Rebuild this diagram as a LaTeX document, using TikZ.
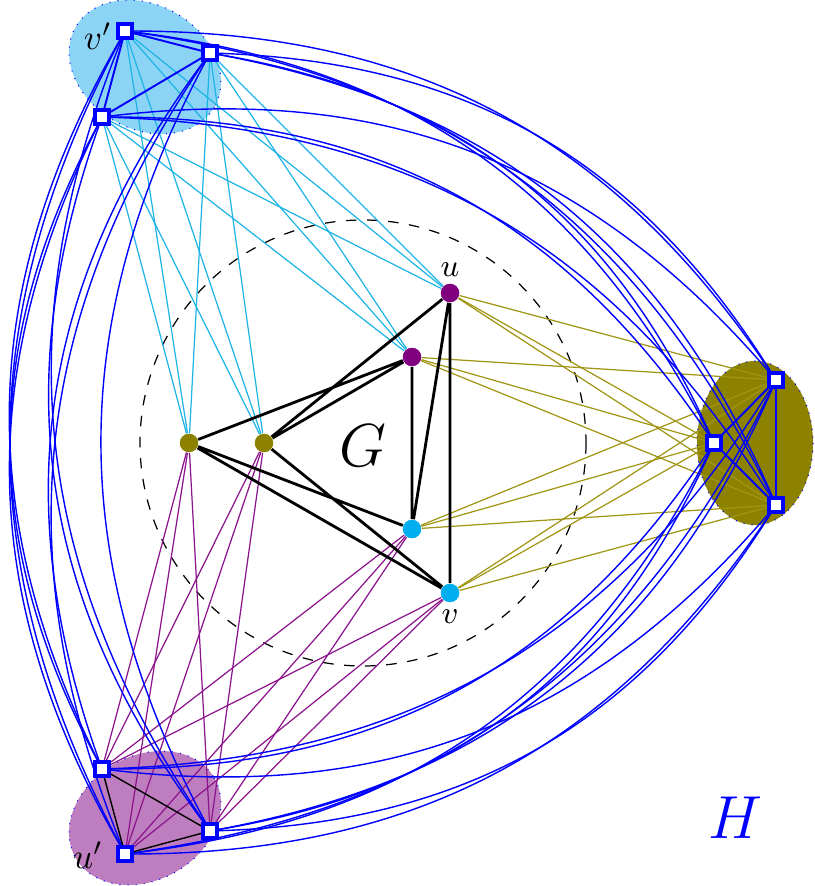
\documentclass[tikz,border=0pt]{standalone}
\begin{document}
\begin{tikzpicture}[x=0.01cm,y=-0.01cm,
  sq/.style={draw=blue,fill=white,line width=1.2pt,minimum size=3.8pt,inner sep=0pt},
  dot/.style={circle,inner sep=0pt,minimum size=5.2pt},
  bl/.style={blue,line width=0.4pt},
  ge/.style={black,line width=0.8pt}]
\definecolor{cyd}{RGB}{0,174,239}
\definecolor{cyl}{RGB}{30,180,230}
\definecolor{cye}{RGB}{140,212,245}
\definecolor{olv}{RGB}{140,130,0}
\definecolor{olvl}{RGB}{160,150,20}
\definecolor{pur}{RGB}{128,0,128}
\definecolor{purl}{RGB}{140,20,140}
\definecolor{pure}{RGB}{190,125,190}
\useasboundingbox (0,0) rectangle (814,886);
\fill[cye] (145,67) ellipse [x radius=80,y radius=62,rotate=-30];
\draw[blue,dotted,line width=0.3pt] (145,67) ellipse [x radius=80,y radius=62,rotate=-30];
\fill[pure] (145,818) ellipse [x radius=80,y radius=62,rotate=30];
\draw[blue,dotted,line width=0.3pt] (145,818) ellipse [x radius=80,y radius=62,rotate=30];
\fill[olv] (755,443) ellipse [x radius=58,y radius=82];
\draw[blue,dotted,line width=0.3pt] (755,443) ellipse [x radius=58,y radius=82];
\draw[dashed,line width=0.35pt] (363,443) circle (223);
\node[dot,fill=olv] (A) at (189,443) {};
\node[dot,fill=olv] (B) at (264,443) {};
\node[dot,fill=pur] (P1) at (450,293) {};
\node[dot,fill=pur] (P2) at (412,357) {};
\node[dot,fill=cyd] (C1) at (412,529) {};
\node[dot,fill=cyd] (C2) at (450,593) {};
\node[sq] (T1) at (125,31) {};
\node[sq] (T2) at (210,53) {};
\node[sq] (T3) at (102,117) {};
\node[sq] (R1) at (776,380) {};
\node[sq] (R2) at (714,443) {};
\node[sq] (R3) at (776,505) {};
\node[sq] (U1) at (102,769) {};
\node[sq] (U2) at (210,831) {};
\node[sq] (U3) at (125,854) {};
\foreach \s in {T1,T2,T3}{\foreach \t in {A,B,P1,P2}{\draw[cyl,line width=0.35pt] (\s)--(\t);}}
\foreach \s in {R1,R2,R3}{\foreach \t in {P1,P2,C1,C2}{\draw[olvl,line width=0.35pt] (\s)--(\t);}}
\foreach \s in {U1,U2,U3}{\foreach \t in {A,B,C1,C2}{\draw[purl,line width=0.35pt] (\s)--(\t);}}
\foreach \s in {T1,T2,T3}{\foreach \t in {R1,R2,R3}{\draw[bl] (\s) to[bend left=28] (\t);}}
\foreach \s in {R1,R2,R3}{\foreach \t in {U1,U2,U3}{\draw[bl] (\s) to[bend left=28] (\t);}}
\foreach \s in {U1,U2,U3}{\foreach \t in {T1,T2,T3}{\draw[bl] (\s) to[bend left=28] (\t);}}
\draw[bl,line width=0.55pt] (T1)--(T2) (T1)--(T3) (T2)--(T3);
\draw[bl,line width=0.55pt] (R1)--(R2) (R1)--(R3) (R2)--(R3);
\draw[black,line width=0.4pt] (U1)--(U2) (U1)--(U3) (U2)--(U3);
\draw[ge] (A)--(P2) (A)--(C1) (A)--(C2) (B)--(P1) (B)--(P2) (B)--(C2) (P1)--(C1) (P1)--(C2) (P2)--(C1);
\foreach \n/\c in {A/olv,B/olv,P1/pur,P2/pur,C1/cyd,C2/cyd}{\node[dot,fill=\c] at (\n) {};}
\foreach \n in {T1,T2,T3,R1,R2,R3,U1,U2,U3}{\node[sq] at (\n) {};}
\node[inner sep=0pt] (lu) at (450,270) {\small$u$};
\node[inner sep=0pt] (lv) at (450,617) {\small$v$};
\node[inner sep=0pt] (lvp) at (98,36) {$v'$};
\node[inner sep=0pt] (lup) at (88,855) {$u'$};
\node[inner sep=0pt] (lG) at (363,446) {\LARGE$G$};
\node[blue,inner sep=0pt] (lH) at (735,818) {\LARGE$H$};
\end{tikzpicture}
\end{document}
